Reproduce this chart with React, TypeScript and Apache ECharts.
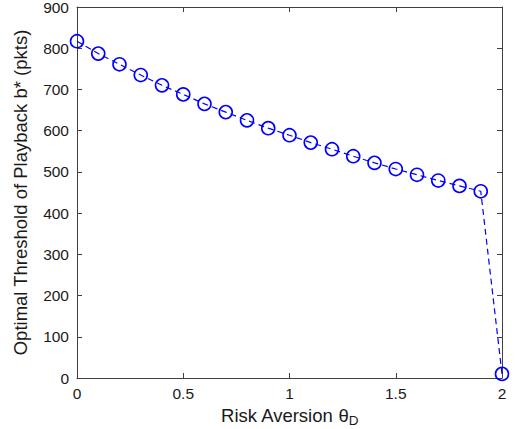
import React, { useEffect, useRef } from "react";
import * as echarts from "echarts";

const riskAversion = [0, 0.1, 0.2, 0.3, 0.4, 0.5, 0.6, 0.7, 0.8, 0.9, 1.0, 1.1, 1.2, 1.3, 1.4, 1.5, 1.6, 1.7, 1.8, 1.9, 2.0];
const threshold = [817, 787, 761, 735, 710, 688, 665, 645, 625, 606, 589, 571, 555, 538, 522, 507, 493, 479, 466, 453, 10];

const xTicks = { min: 0, max: 2, interval: 0.5 };
const yTicks = { min: 0, max: 900, interval: 100 };

const axisColor = "#404040";
const font = "'Liberation Sans', Arial, Helvetica, sans-serif";

export default function App() {
  const ref = useRef<HTMLDivElement>(null);
  useEffect(() => {
    if (!ref.current) return;
    const chart = echarts.init(ref.current, null, { renderer: "svg" });
    const baseAxis = {
      axisLine: { show: true, onZero: false, lineStyle: { color: axisColor, width: 1 } },
      axisTick: { show: true, inside: true, length: 5, lineStyle: { color: axisColor } },
      splitLine: { show: false },
    };
    chart.setOption({
      animation: false,
      backgroundColor: "#ffffff",
      textStyle: { fontFamily: font },
      grid: { left: 77, right: 13, top: 7, bottom: 51, containLabel: false, outerBoundsMode: "none" },
      xAxis: [
        {
          type: "value",
          ...xTicks,
          ...baseAxis,
          position: "bottom",
          axisLabel: { color: "#1a1a1a", fontSize: 15.5, margin: 7, fontFamily: font },
          name: "Risk Aversion {t|θ}{sub|D}",
          nameLocation: "middle",
          nameGap: 24,
          nameTextStyle: {
            color: "#1a1a1a",
            fontSize: 18.5,
            fontFamily: font,
            rich: {
              t: { fontSize: 18.5, fontFamily: font, color: "#1a1a1a" },
              sub: { fontSize: 13.5, fontFamily: font, color: "#1a1a1a", padding: [10, 0, 0, 0] },
            },
          },
        },
        {
          type: "value",
          ...xTicks,
          ...baseAxis,
          position: "top",
          axisLabel: { show: false },
        },
      ],
      yAxis: [
        {
          type: "value",
          ...yTicks,
          ...baseAxis,
          position: "left",
          axisLabel: { color: "#1a1a1a", fontSize: 15.5, margin: 8, fontFamily: font },
          name: "Optimal Threshold of Playback b* (pkts)",
          nameLocation: "middle",
          nameGap: 47,
          nameTextStyle: { color: "#1a1a1a", fontSize: 18.5, fontFamily: font },
        },
        {
          type: "value",
          ...yTicks,
          ...baseAxis,
          position: "right",
          axisLabel: { show: false },
        },
      ],
      series: [
        {
          type: "line",
          xAxisIndex: 0,
          yAxisIndex: 0,
          data: riskAversion.map((x, i) => [x, threshold[i]]),
          symbol: "circle",
          symbolSize: 13,
          showSymbol: true,
          clip: false,
          lineStyle: { color: "#0000ff", width: 1.2, type: [6, 4] },
          itemStyle: { color: "transparent", borderColor: "#0000ff", borderWidth: 1.6 },
        },
      ],
    });
    return () => chart.dispose();
  }, []);
  return (
    <div
      ref={ref}
      style={{ position: "fixed", left: 0, top: 0, width: 515, height: 429 }}
    />
  );
}
